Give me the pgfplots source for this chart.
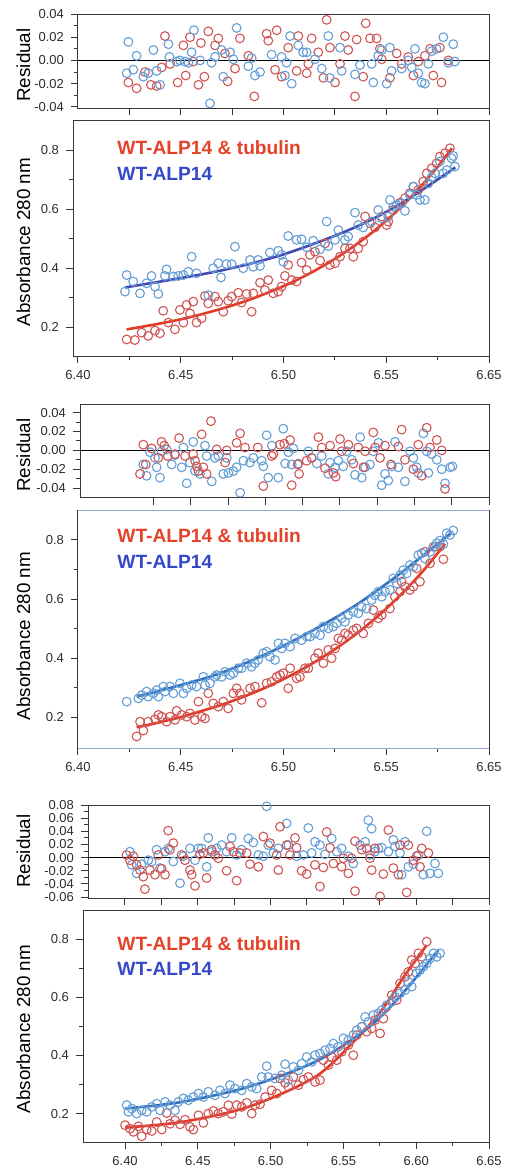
\documentclass[border=0pt]{standalone}
\usepackage{pgfplots}
\pgfplotsset{compat=1.18}
\usepackage{fontspec}
\setmainfont{Liberation Sans}
\definecolor{redc}{RGB}{208,86,86}
\definecolor{bluec}{RGB}{100,158,214}
\definecolor{redfit}{RGB}{226,58,36}
\definecolor{bluefitA}{RGB}{68,72,178}
\definecolor{bluefitB}{RGB}{52,112,192}
\definecolor{legred}{RGB}{228,66,40}
\definecolor{legblue}{RGB}{52,72,200}
\definecolor{axgray}{RGB}{55,55,55}
\definecolor{txtgray}{RGB}{45,45,45}
\definecolor{selblue}{RGB}{150,165,215}
\pgfplotsset{
  panel/.style={scale only axis, anchor=north west,
    axis line style={line width=0.5pt, draw=axgray},
    tick style={line width=0.5pt, draw=axgray},
    tick align=outside, major tick length=3.5pt, minor tick length=2pt,
    xtick pos=bottom, ytick pos=left,
    ticklabel style={font=\fontsize{6.5}{7}\selectfont, text=txtgray},
    /pgf/number format/assume math mode=true},
  resid/.style={panel, xticklabels={}, minor y tick num=1, scaled y ticks=false,
    y tick label style={/pgf/number format/fixed, /pgf/number format/fixed zerofill, /pgf/number format/precision=2}},
  absorb/.style={panel, minor y tick num=1, ytick={0.2,0.4,0.6,0.8},
    y tick label style={/pgf/number format/fixed, /pgf/number format/fixed zerofill, /pgf/number format/precision=1}},
  rpts/.style={only marks, mark=o, mark size=2.2pt, color=redc, mark options={line width=0.55pt}},
  bpts/.style={only marks, mark=o, mark size=2.2pt, color=bluec, mark options={line width=0.55pt}},
  zline/.style={black, line width=0.6pt, forget plot},
  rfit/.style={redfit, line width=1.3pt, smooth},
}
\begin{document}
\begin{tikzpicture}
\useasboundingbox (0,0) rectangle (253pt,-583.5pt);

% ---------- panel 1: residual ----------
\begin{axis}[resid, at={(39pt,-7pt)}, width=205.5pt, height=47pt,
  xmin=6.40, xmax=6.60, ymin=-0.041, ymax=0.04,
  xtick={6.425,6.45,6.475,6.5,6.525,6.55,6.575,6.6},
  ytick={-0.04,-0.02,0,0.02,0.04}]
\addplot[zline] coordinates {(6.40,0) (6.60,0)};
\addplot[rpts] coordinates {
(6.4245,-0.019)(6.4285,-0.024)(6.4326,-0.010)(6.4355,-0.021)(6.4383,-0.022)(6.4407,-0.006)(6.4423,0.021)(6.4448,-0.003)
(6.4485,-0.019)(6.4513,0.013)(6.4524,-0.013)(6.4545,0.020)(6.4561,-0.001)(6.4586,-0.021)(6.4598,0.015)(6.4615,-0.014)
(6.4634,0.025)(6.4667,0.013)(6.4683,0.019)(6.4715,0.006)(6.4728,-0.018)(6.4764,-0.007)(6.4788,0.019)(6.4829,0.004)
(6.4858,-0.031)(6.4918,0.023)(6.4926,0.017)(6.4959,-0.008)(6.4967,0.026)(6.4991,-0.014)(6.5023,0.011)(6.5064,-0.009)
(6.5072,0.021)(6.5113,-0.011)(6.5121,-0.003)(6.5137,0.019)(6.5169,0.007)(6.5194,-0.015)(6.5210,0.035)(6.5226,0.011)
(6.5251,-0.019)(6.5275,-0.003)(6.5299,0.021)(6.5315,0.009)(6.5348,-0.031)(6.5356,0.018)(6.5388,-0.014)(6.5400,0.032)
(6.5421,0.019)(6.5453,0.019)(6.5469,0.010)(6.5478,0.001)(6.5518,-0.015)(6.5551,0.006)(6.5575,-0.003)(6.5607,0.003)
(6.5632,-0.013)(6.5656,-0.001)(6.5688,0.004)(6.5713,0.010)(6.5729,-0.013)(6.5761,0.011)(6.5769,-0.019)(6.5802,0.000)};
\addplot[bpts] coordinates {
(6.4245,0.016)(6.4237,-0.011)(6.4269,-0.008)(6.4285,0.004)(6.4318,-0.014)(6.4342,-0.011)(6.4367,0.009)(6.4383,-0.009)
(6.4399,-0.021)(6.4440,0.014)(6.4445,0.003)(6.4480,-0.001)(6.4496,0.000)(6.4521,-0.001)(6.4537,-0.002)(6.4553,0.007)
(6.4564,0.026)(6.4594,0.000)(6.4642,-0.037)(6.4650,-0.002)(6.4667,0.003)(6.4699,0.009)(6.4707,-0.014)(6.4740,0.007)
(6.4756,0.001)(6.4772,0.028)(6.4829,-0.005)(6.4845,0.002)(6.4861,-0.013)(6.4886,-0.010)(6.4942,0.005)(6.4991,0.003)
(6.5007,-0.013)(6.5015,-0.002)(6.5032,0.021)(6.5040,-0.020)(6.5072,0.013)(6.5096,0.007)(6.5113,0.007)(6.5153,0.001)
(6.5186,-0.007)(6.5218,0.021)(6.5225,-0.015)(6.5275,0.011)(6.5283,-0.009)(6.5348,-0.012)(6.5372,-0.004)(6.5429,-0.003)
(6.5437,-0.019)(6.5461,0.004)(6.5478,0.009)(6.5502,-0.020)(6.5518,0.011)(6.5526,-0.009)(6.5575,-0.007)(6.5607,0.000)
(6.5624,-0.006)(6.5640,0.010)(6.5656,-0.011)(6.5672,-0.019)(6.5688,-0.020)(6.5705,-0.003)(6.5721,0.008)(6.5745,0.010)
(6.5778,0.020)(6.5802,-0.002)(6.5826,0.014)(6.5834,-0.001)};
\end{axis}

% ---------- panel 1: absorbance ----------
\begin{axis}[absorb, at={(36.5pt,-60pt)}, width=208pt, height=118pt,
  xmin=6.3976, xmax=6.60, ymin=0.103, ymax=0.9015,
  xtick={6.40,6.45,6.50,6.55,6.60}, xticklabels={6.40,6.45,6.50,6.55,6.65},
  minor x tick num=1]
\addplot[rpts] coordinates {
(6.4237,0.159)(6.4277,0.157)(6.4310,0.182)(6.4342,0.171)(6.4375,0.189)(6.4399,0.180)(6.4415,0.256)(6.4440,0.216)
(6.4472,0.193)(6.4496,0.259)(6.4513,0.216)(6.4529,0.276)(6.4545,0.247)(6.4561,0.287)(6.4577,0.216)(6.4602,0.231)
(6.4618,0.306)(6.4634,0.281)(6.4667,0.304)(6.4683,0.287)(6.4707,0.253)(6.4731,0.290)(6.4748,0.304)(6.4780,0.317)
(6.4796,0.284)(6.4821,0.313)(6.4845,0.253)(6.4853,0.315)(6.4886,0.351)(6.4910,0.326)(6.4926,0.360)(6.4950,0.315)
(6.4975,0.321)(6.4991,0.338)(6.5007,0.374)(6.5023,0.411)(6.5040,0.360)(6.5064,0.355)(6.5088,0.419)(6.5113,0.394)
(6.5129,0.445)(6.5153,0.456)(6.5178,0.426)(6.5202,0.484)(6.5226,0.411)(6.5251,0.417)(6.5275,0.439)(6.5299,0.467)
(6.5324,0.467)(6.5340,0.439)(6.5364,0.467)(6.5388,0.490)(6.5397,0.575)(6.5421,0.552)(6.5445,0.538)(6.5478,0.575)
(6.5502,0.546)(6.5510,0.558)(6.5534,0.597)(6.5567,0.622)(6.5591,0.637)(6.5615,0.654)(6.5632,0.676)(6.5656,0.665)
(6.5680,0.693)(6.5697,0.721)(6.5721,0.738)(6.5745,0.755)(6.5761,0.778)(6.5786,0.789)(6.5810,0.806)};
\addplot[bpts] coordinates {
(6.4237,0.377)(6.4229,0.321)(6.4269,0.355)(6.4302,0.315)(6.4334,0.349)(6.4358,0.374)(6.4375,0.338)(6.4391,0.313)
(6.4423,0.374)(6.4431,0.396)(6.4464,0.372)(6.4488,0.374)(6.4513,0.377)(6.4537,0.388)(6.4553,0.439)(6.4577,0.383)
(6.4634,0.309)(6.4658,0.400)(6.4683,0.417)(6.4696,0.369)(6.4723,0.414)(6.4748,0.414)(6.4764,0.473)(6.4804,0.400)
(6.4837,0.428)(6.4853,0.405)(6.4877,0.428)(6.4886,0.408)(6.4934,0.453)(6.4975,0.459)(6.4991,0.445)(6.4999,0.422)
(6.5023,0.509)(6.5064,0.496)(6.5088,0.498)(6.5113,0.471)(6.5145,0.493)(6.5178,0.464)(6.5210,0.558)(6.5218,0.475)
(6.5251,0.496)(6.5267,0.529)(6.5299,0.496)(6.5315,0.507)(6.5348,0.588)(6.5364,0.546)(6.5388,0.538)(6.5429,0.558)
(6.5461,0.597)(6.5478,0.569)(6.5510,0.575)(6.5518,0.631)(6.5534,0.608)(6.5551,0.614)(6.5575,0.620)(6.5591,0.594)
(6.5615,0.648)(6.5632,0.676)(6.5648,0.648)(6.5664,0.631)(6.5688,0.631)(6.5705,0.687)(6.5721,0.708)(6.5737,0.721)
(6.5761,0.761)(6.5778,0.721)(6.5794,0.732)(6.5818,0.772)(6.5834,0.744)(6.5826,0.780)};
\addplot[rfit] coordinates {(6.4237,0.193)(6.4337,0.205)(6.4437,0.218)(6.4537,0.233)(6.4637,0.251)(6.4737,0.271)
  (6.4837,0.294)(6.4937,0.321)(6.5037,0.351)(6.5137,0.386)(6.5237,0.426)(6.5337,0.472)(6.5437,0.524)(6.5537,0.584)
  (6.5637,0.653)(6.5737,0.732)(6.5820,0.806)};
\addplot[bluefitA, line width=1.3pt, smooth] coordinates {(6.4229,0.335)(6.4667,0.388)(6.4992,0.445)(6.5317,0.529)(6.5560,0.614)(6.5836,0.741)};
\end{axis}

% ---------- panel 2: residual ----------
\begin{axis}[resid, at={(40pt,-202pt)}, width=204.5pt, height=47pt,
  xmin=6.401, xmax=6.60, ymin=-0.0506, ymax=0.0492,
  xtick={6.4368,6.4549,6.4731,6.4912,6.5093,6.5275,6.5456,6.5637,6.5819,6.60},
  ytick={-0.04,-0.02,0,0.02,0.04}]
\addplot[zline] coordinates {(6.401,0) (6.60,0)};
\addplot[bpts] coordinates {
(6.4318,-0.015)(6.4334,-0.027)(6.4351,-0.002)(6.4375,-0.008)(6.4383,-0.018)(6.4399,-0.029)(6.4407,-0.001)(6.4432,0.001)
(6.4456,-0.015)(6.4472,-0.005)(6.4505,-0.018)(6.4513,0.003)(6.4529,-0.035)(6.4545,-0.013)(6.4561,0.009)(6.4570,-0.022)
(6.4594,-0.025)(6.4618,0.005)(6.4626,-0.006)(6.4651,-0.033)(6.4667,-0.008)(6.4683,-0.006)(6.4707,-0.025)(6.4724,-0.008)
(6.4732,-0.024)(6.4756,-0.022)(6.4772,-0.018)(6.4789,-0.045)(6.4805,-0.011)(6.4837,-0.013)(6.4853,-0.008)(6.4894,-0.011)
(6.4902,-0.017)(6.4918,0.016)(6.4926,-0.029)(6.4943,0.005)(6.4975,-0.029)(6.4999,0.023)(6.5008,-0.014)(6.5024,-0.002)
(6.5040,-0.015)(6.5048,0.002)(6.5072,-0.014)(6.5121,-0.001)(6.5137,-0.008)(6.5162,-0.014)(6.5186,-0.006)(6.5218,-0.025)
(6.5227,-0.013)(6.5251,-0.018)(6.5267,-0.011)(6.5291,-0.017)(6.5308,-0.001)(6.5332,-0.010)(6.5348,-0.026)(6.5373,0.014)
(6.5381,-0.029)(6.5397,-0.018)(6.5421,-0.015)(6.5437,-0.001)(6.5462,0.008)(6.5478,-0.037)(6.5494,-0.025)(6.5510,-0.032)
(6.5527,-0.017)(6.5543,0.009)(6.5559,-0.018)(6.5591,-0.033)(6.5616,-0.001)(6.5632,-0.008)(6.5648,-0.018)(6.5656,-0.024)
(6.5681,0.018)(6.5697,-0.001)(6.5705,-0.024)(6.5721,-0.004)(6.5746,-0.010)(6.5770,-0.020)(6.5786,-0.035)(6.5811,-0.018)
(6.5822,-0.017)};
\addplot[rpts] coordinates {
(6.4302,-0.025)(6.4318,0.006)(6.4330,-0.015)(6.4359,0.002)(6.4391,-0.008)(6.4407,0.009)(6.4420,0.005)(6.4437,-0.006)
(6.4472,-0.004)(6.4492,0.013)(6.4521,-0.006)(6.4561,-0.004)(6.4570,-0.011)(6.4578,-0.017)(6.4586,-0.022)(6.4602,0.017)
(6.4610,-0.018)(6.4626,-0.025)(6.4647,0.031)(6.4675,0.001)(6.4716,-0.013)(6.4724,0.000)(6.4772,0.008)(6.4789,0.018)
(6.4813,0.003)(6.4875,0.003)(6.4902,-0.038)(6.4943,-0.006)(6.4951,-0.004)(6.4983,0.006)(6.5004,0.007)(6.5032,0.011)
(6.5040,-0.037)(6.5069,-0.015)(6.5076,-0.025)(6.5113,-0.011)(6.5137,-0.008)(6.5170,0.014)(6.5186,0.003)(6.5202,-0.019)
(6.5227,0.005)(6.5243,-0.024)(6.5254,-0.028)(6.5275,0.012)(6.5283,-0.001)(6.5316,0.006)(6.5340,-0.014)(6.5364,0.003)
(6.5389,-0.018)(6.5397,-0.001)(6.5437,0.019)(6.5446,0.003)(6.5470,-0.008)(6.5494,0.005)(6.5523,-0.015)(6.5559,0.004)
(6.5575,0.022)(6.5591,-0.010)(6.5632,-0.020)(6.5656,0.006)(6.5673,-0.027)(6.5697,0.024)(6.5713,0.003)(6.5746,0.011)
(6.5770,0.000)(6.5786,-0.041)};
\end{axis}

% ---------- panel 2: absorbance ----------
\begin{axis}[absorb, at={(39pt,-255pt)}, width=205.5pt, height=119pt,
  xmin=6.40, xmax=6.60, ymin=0.096, ymax=0.9015,
  separate axis lines, x axis line style={draw=selblue},
  xtick={6.40,6.45,6.50,6.55,6.60}, xticklabels={6.40,6.45,6.50,6.55,6.65},
  minor x tick num=1]
\addplot[rpts] coordinates {
(6.4285,0.135)(6.4302,0.185)(6.4318,0.155)(6.4342,0.185)(6.4375,0.193)(6.4391,0.208)(6.4407,0.202)(6.4431,0.185)
(6.4448,0.202)(6.4472,0.191)(6.4480,0.222)(6.4504,0.208)(6.4529,0.202)(6.4545,0.213)(6.4569,0.191)(6.4586,0.253)
(6.4602,0.202)(6.4618,0.196)(6.4634,0.281)(6.4658,0.247)(6.4683,0.236)(6.4707,0.253)(6.4731,0.230)(6.4756,0.281)
(6.4772,0.298)(6.4788,0.281)(6.4796,0.259)(6.4837,0.298)(6.4861,0.304)(6.4894,0.249)(6.4918,0.315)(6.4942,0.320)
(6.4967,0.337)(6.4983,0.343)(6.4999,0.349)(6.5023,0.298)(6.5032,0.366)(6.5064,0.332)(6.5080,0.337)(6.5105,0.366)
(6.5121,0.366)(6.5153,0.400)(6.5169,0.417)(6.5194,0.383)(6.5218,0.428)(6.5234,0.400)(6.5251,0.433)(6.5267,0.467)
(6.5283,0.461)(6.5299,0.484)(6.5315,0.478)(6.5340,0.495)(6.5356,0.501)(6.5388,0.484)(6.5413,0.518)(6.5437,0.563)
(6.5461,0.535)(6.5478,0.546)(6.5518,0.568)(6.5542,0.608)(6.5567,0.625)(6.5575,0.659)(6.5591,0.642)(6.5615,0.631)
(6.5632,0.642)(6.5648,0.704)(6.5664,0.659)(6.5688,0.760)(6.5713,0.721)(6.5737,0.777)(6.5761,0.777)(6.5778,0.735)};
\addplot[bpts] coordinates {
(6.4237,0.253)(6.4294,0.264)(6.4310,0.275)(6.4334,0.287)(6.4342,0.270)(6.4367,0.281)(6.4383,0.292)(6.4391,0.270)
(6.4415,0.304)(6.4423,0.287)(6.4448,0.304)(6.4464,0.281)(6.4496,0.315)(6.4513,0.281)(6.4529,0.298)(6.4553,0.309)
(6.4577,0.304)(6.4610,0.337)(6.4618,0.309)(6.4642,0.315)(6.4667,0.337)(6.4675,0.343)(6.4699,0.337)(6.4715,0.354)
(6.4740,0.343)(6.4756,0.349)(6.4780,0.366)(6.4796,0.366)(6.4821,0.383)(6.4845,0.371)(6.4861,0.383)(6.4877,0.394)
(6.4902,0.417)(6.4918,0.422)(6.4934,0.405)(6.4959,0.394)(6.4975,0.450)(6.4991,0.433)(6.5007,0.450)(6.5032,0.439)
(6.5056,0.467)(6.5088,0.461)(6.5113,0.473)(6.5129,0.473)(6.5153,0.484)(6.5178,0.478)(6.5194,0.507)(6.5218,0.501)
(6.5242,0.507)(6.5259,0.518)(6.5283,0.535)(6.5299,0.523)(6.5315,0.546)(6.5340,0.557)(6.5364,0.552)(6.5380,0.574)
(6.5405,0.568)(6.5429,0.597)(6.5445,0.613)(6.5461,0.625)(6.5478,0.608)(6.5494,0.625)(6.5518,0.631)(6.5534,0.670)
(6.5551,0.653)(6.5567,0.681)(6.5583,0.698)(6.5599,0.687)(6.5615,0.715)(6.5632,0.709)(6.5656,0.749)(6.5672,0.755)
(6.5688,0.737)(6.5713,0.760)(6.5729,0.777)(6.5745,0.789)(6.5761,0.798)(6.5778,0.786)(6.5794,0.823)(6.5810,0.817)
(6.5826,0.832)};
\addplot[rfit] coordinates {(6.4285,0.166)(6.4385,0.181)(6.4485,0.198)(6.4585,0.218)(6.4685,0.239)(6.4785,0.264)
  (6.4885,0.292)(6.4985,0.324)(6.5085,0.360)(6.5185,0.401)(6.5285,0.447)(6.5385,0.499)(6.5485,0.558)(6.5585,0.625)
  (6.5685,0.700)(6.5786,0.787)};
\addplot[bluefitB, line width=1.3pt, smooth] coordinates {(6.4285,0.270)(6.4667,0.343)(6.4991,0.439)(6.5315,0.563)(6.5559,0.682)(6.5818,0.825)};
\end{axis}

% ---------- panel 3: residual ----------
\begin{axis}[resid, at={(44pt,-402.5pt)}, width=200.5pt, height=46.5pt,
  xmin=6.3746, xmax=6.65, ymin=-0.0615, ymax=0.08,
  xtick={6.40,6.425,6.45,6.475,6.50,6.525,6.55,6.575,6.60,6.625,6.65},
  ytick={-0.06,-0.04,-0.02,0,0.02,0.04,0.06,0.08}]
\addplot[zline] coordinates {(6.3746,0) (6.65,0)};
\addplot[bpts] coordinates {
(6.4034,0.009)(6.4046,-0.011)(6.4080,-0.024)(6.4114,-0.010)(6.4160,-0.004)(6.4183,-0.006)(6.4217,0.012)(6.4240,-0.016)
(6.4275,0.009)(6.4297,0.014)(6.4332,-0.006)(6.4378,-0.039)(6.4400,0.002)(6.4446,0.014)(6.4481,-0.004)(6.4504,0.014)
(6.4526,0.014)(6.4561,-0.014)(6.4572,0.030)(6.4595,0.009)(6.4629,0.014)(6.4664,0.019)(6.4698,0.009)(6.4733,0.030)
(6.4767,0.004)(6.4801,0.012)(6.4847,0.029)(6.4881,0.023)(6.4916,0.004)(6.4950,0.002)(6.4973,0.078)(6.4984,0.019)
(6.5019,0.007)(6.5053,0.014)(6.5110,0.052)(6.5122,0.019)(6.5179,0.002)(6.5225,0.004)(6.5259,0.045)(6.5282,0.007)
(6.5305,0.024)(6.5339,0.019)(6.5374,0.005)(6.5420,0.029)(6.5454,0.009)(6.5488,0.014)(6.5534,0.002)(6.5568,-0.009)
(6.5614,0.019)(6.5649,0.024)(6.5671,0.057)(6.5683,0.004)(6.5694,0.044)(6.5717,0.009)(6.5740,0.014)(6.5763,0.015)
(6.5809,0.009)(6.5843,0.027)(6.5855,0.017)(6.5889,0.007)(6.5900,-0.026)(6.5923,0.024)(6.5946,-0.014)(6.5981,-0.010)
(6.6015,0.004)(6.6049,-0.026)(6.6072,0.040)(6.6095,-0.024)(6.6129,-0.009)(6.6152,-0.024)};
\addplot[rpts] coordinates {
(6.4011,0.004)(6.4034,-0.004)(6.4057,0.002)(6.4080,-0.011)(6.4103,-0.019)(6.4126,-0.029)(6.4137,-0.048)(6.4171,-0.019)
(6.4206,-0.026)(6.4229,0.004)(6.4252,-0.017)(6.4275,-0.026)(6.4297,0.041)(6.4309,0.012)(6.4332,0.022)(6.4389,0.004)
(6.4412,-0.004)(6.4446,-0.019)(6.4458,-0.026)(6.4481,-0.043)(6.4515,0.005)(6.4538,0.007)(6.4561,-0.031)(6.4595,0.012)
(6.4618,0.004)(6.4641,-0.001)(6.4698,-0.020)(6.4721,0.017)(6.4744,0.009)(6.4767,-0.035)(6.4790,0.007)(6.4836,0.007)
(6.4858,-0.010)(6.4916,-0.014)(6.4950,0.032)(6.4996,0.022)(6.5042,0.004)(6.5053,-0.019)(6.5065,0.047)(6.5110,0.019)
(6.5133,0.004)(6.5168,0.030)(6.5179,0.015)(6.5213,-0.020)(6.5248,-0.025)(6.5305,-0.011)(6.5339,-0.044)(6.5362,-0.015)
(6.5385,0.039)(6.5408,0.015)(6.5431,-0.009)(6.5488,-0.014)(6.5500,-0.001)(6.5534,-0.024)(6.5557,-0.001)(6.5580,-0.051)
(6.5580,0.025)(6.5626,0.012)(6.5660,0.014)(6.5683,-0.001)(6.5694,-0.019)(6.5717,0.014)(6.5752,-0.059)(6.5774,-0.025)
(6.5809,0.042)(6.5843,-0.016)(6.5878,-0.026)(6.5889,0.019)(6.5935,-0.053)(6.5946,0.019)(6.5981,-0.004)(6.6003,0.002)
(6.6026,-0.014)(6.6038,0.014)(6.6084,0.007)};
\end{axis}

% ---------- panel 3: absorbance ----------
\begin{axis}[absorb, at={(41.5pt,-455pt)}, width=203pt, height=116pt,
  xmin=6.3711, xmax=6.65, ymin=0.102, ymax=0.901,
  xtick={6.40,6.45,6.50,6.55,6.60,6.65}, xticklabels={6.40,6.45,6.50,6.55,6.60,6.65},
  minor x tick num=1]
\addplot[rpts] coordinates {
(6.4000,0.160)(6.4034,0.148)(6.4057,0.137)(6.4091,0.156)(6.4114,0.122)(6.4149,0.145)(6.4183,0.140)(6.4217,0.171)
(6.4252,0.145)(6.4286,0.202)(6.4309,0.165)(6.4343,0.177)(6.4378,0.163)(6.4412,0.179)(6.4446,0.154)(6.4469,0.145)
(6.4504,0.194)(6.4538,0.168)(6.4572,0.200)(6.4607,0.209)(6.4641,0.200)(6.4675,0.206)(6.4710,0.229)(6.4733,0.198)
(6.4767,0.229)(6.4801,0.223)(6.4836,0.237)(6.4870,0.200)(6.4893,0.229)(6.4927,0.232)(6.4962,0.257)(6.5007,0.280)
(6.5042,0.269)(6.5065,0.321)(6.5099,0.306)(6.5122,0.292)(6.5156,0.326)(6.5191,0.298)(6.5225,0.317)(6.5259,0.326)
(6.5305,0.309)(6.5339,0.315)(6.5362,0.384)(6.5397,0.367)(6.5420,0.395)(6.5454,0.384)(6.5488,0.413)(6.5534,0.436)
(6.5568,0.401)(6.5591,0.470)(6.5626,0.499)(6.5660,0.482)(6.5694,0.493)(6.5717,0.522)(6.5752,0.476)(6.5775,0.527)
(6.5797,0.568)(6.5832,0.608)(6.5866,0.591)(6.5889,0.648)(6.5923,0.671)(6.5946,0.688)(6.5969,0.729)(6.5992,0.717)
(6.6015,0.752)(6.6038,0.740)(6.6072,0.792)};
\addplot[bpts] coordinates {
(6.4011,0.229)(6.4023,0.206)(6.4046,0.217)(6.4080,0.200)(6.4114,0.211)(6.4149,0.206)(6.4183,0.223)(6.4217,0.234)
(6.4240,0.211)(6.4275,0.240)(6.4309,0.229)(6.4343,0.211)(6.4366,0.240)(6.4400,0.252)(6.4435,0.246)(6.4469,0.257)
(6.4504,0.269)(6.4538,0.257)(6.4572,0.275)(6.4618,0.263)(6.4652,0.280)(6.4687,0.269)(6.4721,0.298)(6.4755,0.286)
(6.4801,0.280)(6.4836,0.303)(6.4870,0.292)(6.4904,0.286)(6.4939,0.326)(6.4973,0.363)(6.4984,0.326)(6.5030,0.321)
(6.5076,0.332)(6.5099,0.370)(6.5122,0.315)(6.5156,0.361)(6.5191,0.349)(6.5213,0.372)(6.5248,0.395)(6.5282,0.378)
(6.5305,0.401)(6.5339,0.407)(6.5374,0.418)(6.5408,0.424)(6.5431,0.441)(6.5465,0.430)(6.5500,0.459)(6.5534,0.453)
(6.5568,0.470)(6.5591,0.487)(6.5626,0.499)(6.5649,0.533)(6.5671,0.516)(6.5706,0.539)(6.5740,0.545)(6.5763,0.556)
(6.5797,0.573)(6.5832,0.585)(6.5855,0.602)(6.5889,0.614)(6.5923,0.625)(6.5946,0.654)(6.5969,0.637)(6.6003,0.683)
(6.6026,0.694)(6.6049,0.706)(6.6072,0.717)(6.6095,0.734)(6.6118,0.752)(6.6141,0.740)(6.6164,0.752)};
\addplot[rfit] coordinates {(6.4000,0.152)(6.4389,0.171)(6.4847,0.223)(6.5305,0.326)(6.5580,0.453)(6.5763,0.556)(6.5923,0.677)(6.6072,0.780)};
\addplot[bluefitB, line width=1.3pt, smooth] coordinates {(6.4000,0.217)(6.4389,0.240)(6.4847,0.292)(6.5305,0.378)(6.5649,0.487)(6.5878,0.597)(6.6152,0.763)};
\end{axis}

% ---------- axis titles and legends ----------
\tikzset{ylab/.style={rotate=90, font=\fontsize{9.4}{10}\selectfont, text=black}}
\node[ylab] at (11.75pt,-32.5pt) {Residual};
\node[ylab] at (11.75pt,-121pt) {Absorbance 280 nm};
\node[ylab] at (11.75pt,-227.5pt) {Residual};
\node[ylab] at (11.75pt,-318pt) {Absorbance 280 nm};
\node[ylab] at (11.75pt,-425.5pt) {Residual};
\node[ylab] at (11.75pt,-514.5pt) {Absorbance 280 nm};
\tikzset{leg/.style={anchor=west, inner sep=0pt, font=\bfseries\fontsize{9.6}{10}\selectfont}}
\node[leg, text=legred] at (58.5pt,-74pt) {WT-ALP14 \& tubulin};
\node[leg, text=legblue] at (58.5pt,-87pt) {WT-ALP14};
\node[leg, text=legred] at (58.5pt,-267.75pt) {WT-ALP14 \& tubulin};
\node[leg, text=legblue] at (58.5pt,-280.75pt) {WT-ALP14};
\node[leg, text=legred] at (58.5pt,-472pt) {WT-ALP14 \& tubulin};
\node[leg, text=legblue] at (58.5pt,-484.5pt) {WT-ALP14};
\end{tikzpicture}
\end{document}
